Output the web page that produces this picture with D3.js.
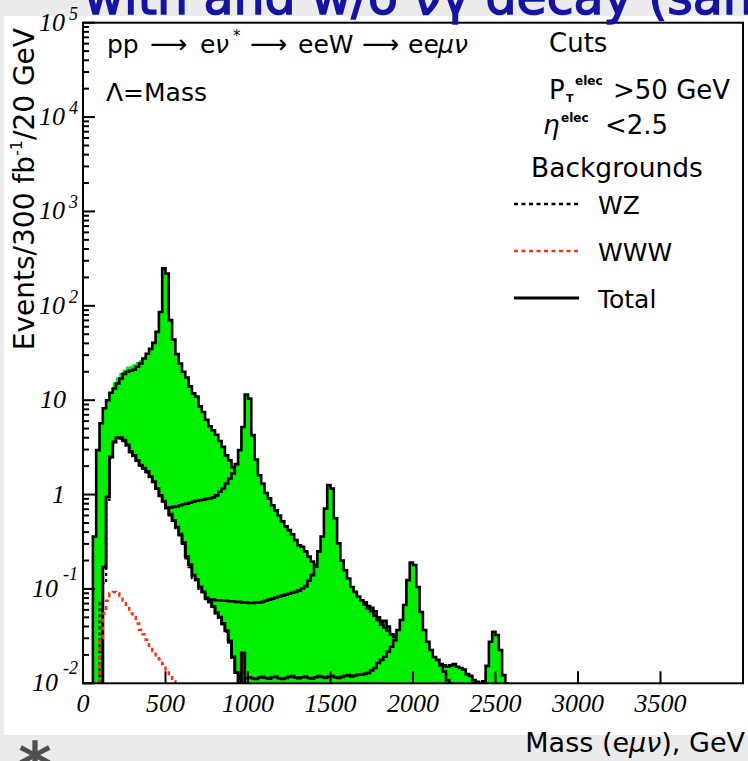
<!DOCTYPE html>
<html><head><meta charset="utf-8">
<script src="https://cdn.jsdelivr.net/npm/d3@7/dist/d3.min.js"></script>
<style>body{margin:0;background:#ebebeb;}svg{display:block}</style>
</head><body>
<svg id="c" width="748" height="761"></svg>
<script>
// ---------------- data ----------------
const BIN = 20; // GeV per bin
const xTickValues = [0, 500, 1000, 1500, 2000, 2500, 3000, 3500];
const yDecades = [-2, -1, 0, 1, 2, 3, 4, 5];

// signal, Lambda = Mass = 500 GeV (first bin index, then bin contents)
const m500Start = 3;
const m500 = [0.36, 2.96, 5.7, 8.2, 10, 12, 13.3, 15, 17, 19, 20, 20.5, 21, 22.6, 24.5, 27.7, 31, 35, 40.5, 53, 86,
  250, 220, 70.6, 44, 30.8, 24.5, 20, 17.4, 14, 11.8, 10.9, 8.6, 7.5, 6.2, 5.3, 4.8, 4.3, 3.7, 3.2, 2.6, 2.3, 1.95,
  1.75, 1.55, 1.4, 1.25, 1.1, 0.95, 0.8, 0.7, 0.6, 0.5];
// alternative (w/o decay) M=500 sample, only visible as green edge
const m500altStart = 9;
const m500alt = [15.5, 17.5, 19.5, 21, 22.6, 23.2, 24, 25.5, 26.6, 28.5];

const m1000Start = 15;
const m1000 = [0.55, 0.58, 0.6, 0.62, 0.63, 0.65, 0.67, 0.68, 0.7, 0.71,
  0.72, 0.73, 0.74, 0.75, 0.77, 0.79, 0.8, 0.82, 0.84, 0.86, 0.87, 0.88, 0.9, 0.91, 0.93,
  0.98, 1.07, 1.16, 1.31, 1.48, 1.67, 2.1, 2.96, 5.2, 11.5, 10.4,
  4.26, 2.35, 1.6, 1.31, 1.04, 0.91, 0.77, 0.68, 0.6, 0.52, 0.46, 0.42, 0.38, 0.33, 0.29, 0.28, 0.25, 0.22, 0.195,
  0.18, 0.17, 0.155, 0.145, 0.135, 0.125, 0.115, 0.107, 0.1, 0.094, 0.088, 0.083, 0.078, 0.074, 0.07, 0.072, 0.066, 0.063, 0.058, 0.05,
  0.045, 0.046, 0.04, 0.033, 0.03, 0.027, 0.025, 0.023, 0.021, 0.02, 0.019, 0.018, 0.017, 0.016, 0.015, 0.015, 0.014, 0.013, 0.013, 0.012, 0.012, 0.011, 0.0105, 0.01];

const m1500Start = 30;
const m1500 = [0.07, 0.071, 0.072, 0.073, 0.074, 0.075, 0.076, 0.076, 0.077, 0.077,
  0.076, 0.076, 0.075, 0.075, 0.074, 0.074, 0.073, 0.073, 0.072, 0.072, 0.071, 0.071, 0.072, 0.072, 0.073,
  0.075, 0.077, 0.079, 0.081, 0.083, 0.085, 0.087, 0.089, 0.091, 0.093, 0.096,
  0.101, 0.107, 0.122, 0.14, 0.172, 0.25, 0.36, 0.71, 1.26, 1.16, 0.56, 0.304, 0.2, 0.158,
  0.129, 0.105, 0.093, 0.083, 0.076, 0.068, 0.062, 0.058, 0.052, 0.047, 0.042, 0.039, 0.036, 0.033, 0.031, 0.029, 0.027, 0.025, 0.024, 0.022,
  0.021, 0.02, 0.019, 0.018, 0.0175, 0.017, 0.0165, 0.016, 0.016, 0.0155, 0.015, 0.0155, 0.016, 0.015, 0.0145, 0.014, 0.0125, 0.012, 0.0108, 0.0104];

const m2000Start = 45;
const m2000 = [0.0108, 0.0112, 0.0115, 0.0112, 0.0114, 0.0116, 0.0113, 0.0111, 0.0115, 0.0117,
  0.0114, 0.0112, 0.0116, 0.0118, 0.0113, 0.0111, 0.0114, 0.0117, 0.0119, 0.0115,
  0.0113, 0.0116, 0.0118, 0.0114, 0.0112, 0.0116, 0.0119, 0.0117, 0.0114, 0.0118,
  0.012, 0.0116, 0.0114, 0.0117, 0.012, 0.0122, 0.0118, 0.0121, 0.0124, 0.0123, 0.0126,
  0.0129, 0.0137, 0.0145, 0.0164, 0.0177, 0.0191, 0.0216, 0.0244, 0.0287, 0.0367, 0.0469, 0.0675, 0.124, 0.19, 0.179,
  0.105, 0.057, 0.0367, 0.0276, 0.0225, 0.019, 0.0177, 0.0156, 0.0133, 0.0108, 0.0095];

const m2500Start = 118;
const m2500 = [0.009, 0.009, 0.0085, 0.0105, 0.0153, 0.0276, 0.0352, 0.0325, 0.0225, 0.0122, 0.008];

// backgrounds
const bgStart = 5;
const bgTotal = [0.008, 0.17, 0.95, 2.5, 3.6, 4.0, 4.0, 3.77, 3.36, 2.86, 2.6, 2.3, 2.05, 1.9, 1.75, 1.55, 1.37, 1.16, 0.98,
  0.85, 0.72, 0.62, 0.53, 0.45, 0.38, 0.31, 0.22, 0.18, 0.14, 0.125, 0.105, 0.093, 0.08, 0.074, 0.065, 0.056, 0.05,
  0.043, 0.036, 0.028, 0.019, 0.013, 0.009, 0.021, 0.009];
const bgWZ = [0.075, 0.115, 0.88, 2.42, 3.51, 3.91, 3.91, 3.69, 3.29, 2.8, 2.55, 2.26, 2.01, 1.87, 1.72, 1.52, 1.35, 1.14, 0.96,
  0.83, 0.7, 0.6, 0.52, 0.44, 0.37, 0.3, 0.21, 0.17, 0.13, 0.12, 0.1, 0.09, 0.078, 0.072, 0.063, 0.055, 0.049,
  0.042, 0.035, 0.027, 0.018, 0.013, 0.009, 0.021, 0.009];
const bgWWW = [0.03, 0.055, 0.075, 0.09, 0.093, 0.09, 0.085, 0.075, 0.065, 0.055, 0.05, 0.043, 0.037, 0.033, 0.029,
  0.025, 0.022, 0.019, 0.018, 0.016, 0.014, 0.012, 0.0105, 0.009];

const legendNames = ["WZ", "WWW", "Total"];

// ---------------- drawing ----------------
const svg = d3.select("#c");
const SANS = "'DejaVu Sans', sans-serif";
const SERIF = "'Liberation Serif', 'DejaVu Serif', serif";
const GREEN = "#00f000";
const RED = "#ff3010";

svg.append("rect").attr("width", 748).attr("height", 761).attr("fill", "#ebebeb");
svg.append("rect").attr("x", 4).attr("y", 16).attr("width", 744).attr("height", 719).attr("fill", "#ffffff");

const x = d3.scaleLinear().domain([0, 4000]).range([83, 743]);
const y = d3.scaleLog().domain([1e-2, 1e5]).range([683.3, 22.7]).clamp(true);
const [x0, x1] = x.range(), [yb, yt] = y.range();

svg.append("defs").append("clipPath").attr("id", "pc")
  .append("rect").attr("x", x0).attr("y", yt).attr("width", x1 - x0).attr("height", yb - yt);
const g = svg.append("g").attr("clip-path", "url(#pc)");

function histPts(start, vals) {
  const pts = [[x(start * BIN), yb]];
  vals.forEach((v, i) => {
    const a = (start + i) * BIN;
    pts.push([x(a), y(v)], [x(a + BIN), y(v)]);
  });
  pts.push([x((start + vals.length) * BIN), yb]);
  return pts;
}
const line = d3.line();
function drawHist(start, vals, fill, stroke, width, dash) {
  const pts = histPts(start, vals);
  if (fill) g.append("path").attr("d", line(pts) + "Z").attr("fill", fill).attr("stroke", "none");
  if (stroke) g.append("path").attr("d", line(pts)).attr("fill", "none").attr("stroke", stroke)
    .attr("stroke-width", width).attr("stroke-dasharray", dash || null).attr("stroke-linejoin", "miter");
}

drawHist(m500altStart, m500alt, GREEN, null);
drawHist(m500Start, m500, GREEN, "#000", 2.6);
drawHist(m1000Start, m1000, GREEN, "#000", 2.6);
drawHist(m1500Start, m1500, GREEN, "#000", 2.6);
drawHist(m2000Start, m2000, GREEN, "#000", 2.6);
drawHist(m2500Start, m2500, GREEN, "#000", 2.6);
drawHist(bgStart, bgTotal, "#ffffff", "#000", 3);
drawHist(bgStart, bgWZ, null, "#000", 2.2, "3,3");
drawHist(bgStart, bgWWW, null, RED, 2.5, "4,4");

// axes ticks
const ax = svg.append("g").attr("stroke", "#000").attr("stroke-width", 2);
yDecades.forEach(d => {
  const yy = y(Math.pow(10, d));
  ax.append("line").attr("x1", x0).attr("x2", x0 + 12).attr("y1", yy).attr("y2", yy);
  if (d < 5) for (let k = 2; k <= 9; k++) {
    const ym = y(k * Math.pow(10, d));
    ax.append("line").attr("x1", x0).attr("x2", x0 + 6).attr("y1", ym).attr("y2", ym);
  }
});
xTickValues.forEach(v => {
  ax.append("line").attr("x1", x(v)).attr("x2", x(v)).attr("y1", yb).attr("y2", yb - 12);
});
svg.append("rect").attr("x", x0).attr("y", yt).attr("width", x1 - x0).attr("height", yb - yt)
  .attr("fill", "none").attr("stroke", "#000").attr("stroke-width", 2);

// y tick labels
yDecades.forEach(d => {
  const yy = y(Math.pow(10, d));
  const t = svg.append("text").attr("font-family", SERIF).attr("font-style", "italic").attr("fill", "#000");
  if (d === 0) {
    t.attr("x", 65).attr("y", yy + 8).attr("text-anchor", "end").attr("font-size", 26).text("1");
  } else if (d === 1) {
    t.attr("x", 66).attr("y", yy + 8).attr("text-anchor", "end").attr("font-size", 26).text("10");
  } else if (d > 1) {
    t.attr("x", 65).attr("y", yy + 8).attr("text-anchor", "end").attr("font-size", 26).text("10");
    svg.append("text").attr("font-family", SERIF).attr("font-style", "italic").attr("font-size", 18)
      .attr("x", 69).attr("y", yy - 3).text(d);
  } else {
    t.attr("x", 58).attr("y", yy + 8).attr("text-anchor", "end").attr("font-size", 26).text("10");
    svg.append("text").attr("font-family", SERIF).attr("font-style", "italic").attr("font-size", 18)
      .attr("x", 63).attr("y", yy - 9).text("-" + Math.abs(d));
  }
});
// x tick labels
xTickValues.forEach(v => {
  svg.append("text").attr("font-family", SERIF).attr("font-style", "italic").attr("font-size", 26)
    .attr("x", x(v)).attr("y", 712).attr("text-anchor", "middle").text(v);
});

// axis titles
const yt2 = svg.append("text").attr("font-family", SANS).attr("font-size", 28)
  .attr("transform", "translate(34,28) rotate(-90)").attr("text-anchor", "end");
yt2.append("tspan").text("Events/300 fb");
yt2.append("tspan").attr("font-size", 16).attr("dy", -12).text("-1");
yt2.append("tspan").attr("dy", 12).text("/20 GeV");

const xt = svg.append("text").attr("font-family", SANS).attr("font-size", 27)
  .attr("x", 745).attr("y", 752).attr("text-anchor", "end");
xt.append("tspan").text("Mass (e");
xt.append("tspan").attr("font-style", "italic").text("μν");
xt.append("tspan").text("), GeV");

// process text
function txt(xp, yp, s, size, opts) {
  const t = svg.append("text").attr("x", xp).attr("y", yp).attr("font-family", SANS)
    .attr("font-size", size).attr("fill", "#000").text(s);
  if (opts && opts.italic) t.attr("font-style", "italic");
  if (opts && opts.bold) t.attr("font-weight", "bold");
  return t;
}
txt(107, 53, "pp", 25);
txt(150, 53, "⟶", 26);
txt(200, 53, "e", 25);
txt(215, 53, "ν", 25, {italic: true});
txt(233, 41, "*", 15);
txt(250, 53, "⟶", 26);
txt(298, 53, "eeW", 25);
txt(362, 53, "⟶", 26);
txt(408, 53, "ee", 25);
txt(438, 53, "μν", 25, {italic: true});
txt(106, 101, "Λ=Mass", 25);

txt(549, 52, "Cuts", 26);
txt(549, 99, "P", 26);
txt(566, 102, "T", 11, {bold: true});
txt(575, 85, "elec", 12, {bold: true});
txt(613, 99, ">50 GeV", 26);
txt(543, 134, "η", 26, {italic: true});
txt(561, 122, "elec", 12, {bold: true});
txt(605, 134, "<2.5", 26);
txt(531, 177, "Backgrounds", 26.5);

// legend
const legY = [204, 251, 298];
svg.append("line").attr("x1", 514).attr("x2", 579).attr("y1", legY[0]).attr("y2", legY[0])
  .attr("stroke", "#000").attr("stroke-width", 2.5).attr("stroke-dasharray", "4,3.5");
svg.append("line").attr("x1", 514).attr("x2", 579).attr("y1", legY[1]).attr("y2", legY[1])
  .attr("stroke", RED).attr("stroke-width", 2.5).attr("stroke-dasharray", "4,3.5");
svg.append("line").attr("x1", 514).attr("x2", 579).attr("y1", legY[2]).attr("y2", legY[2])
  .attr("stroke", "#000").attr("stroke-width", 3);
legendNames.forEach((n, i) => txt(598, legY[i] + 10, n, 25));

// slide title (partly cut off at the top) and bullet
svg.append("text").attr("x", 84).attr("y", 14).attr("font-family", SANS).attr("font-size", 49)
  .attr("fill", "#1414a0").attr("stroke", "#1414a0").attr("stroke-width", 1.5)
  .text("with and w/o νγ decay (sam");
svg.append("text").attr("x", 35).attr("y", 788).attr("text-anchor", "middle").attr("font-family", SANS)
  .attr("font-size", 64).attr("font-weight", "bold").attr("fill", "#505050").text("*");
</script>
</body></html>
